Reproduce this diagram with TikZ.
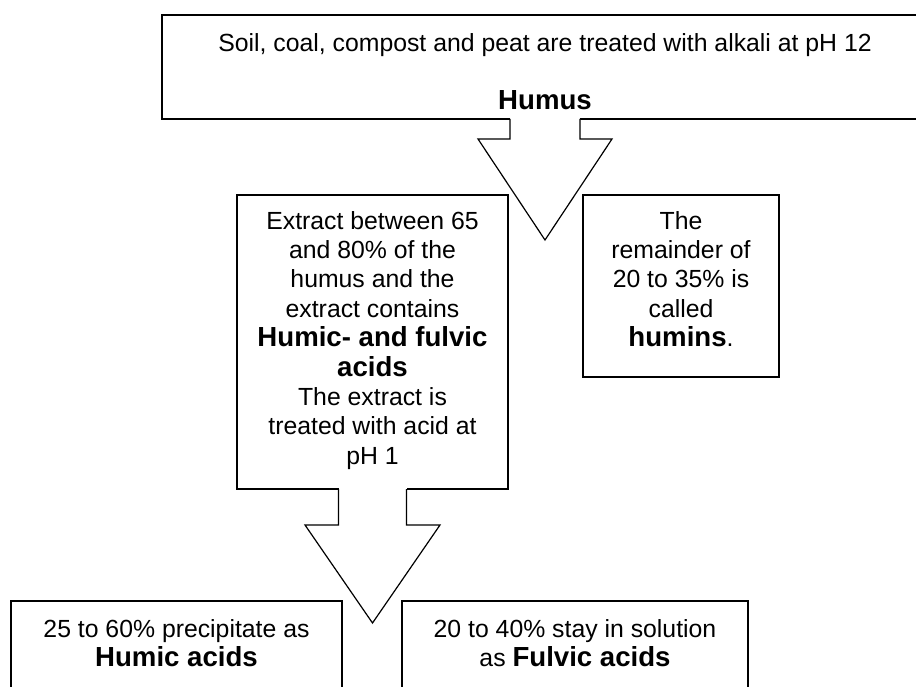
\documentclass[tikz,border=0pt]{standalone}
\usepackage{fontspec}
\setmainfont{Liberation Sans}
\usetikzlibrary{calc}
% emphasised terms are set bold and a little larger than the body text
\newcommand\term[1]{{\fontsize{27.6}{29.4}\selectfont\bfseries #1}}
\begin{document}
\begin{tikzpicture}[x=1pt,y=-1pt,
  box/.style={draw, line width=1.7pt, fill=white, rectangle, inner sep=0pt, outer sep=0pt},
  txt/.style={anchor=north, inner sep=0pt, align=center,
    font=\fontsize{24.8}{29.4}\selectfont},
  blockarrow/.style={draw, line width=1.2pt, fill=white, line join=miter},
  % hollow block arrow hanging from a box edge:
  % {shaft half width}{shaft length}{head half width}{tip depth}
  pics/downarrow/.style n args={4}{code={
    \fill[white] (-#1,-3) rectangle (#1,2);
    \draw[blockarrow] (-#1,0) -- (-#1,#2) -- (-#3,#2) -- (0,#4)
      -- (#3,#2) -- (#1,#2) -- (#1,0);
  }}]
\useasboundingbox (0,0) rectangle (916,687);
\clip (0,0) rectangle (916,687);

% boxes
\node[box, minimum width=766, minimum height=104] (src) at (545,67) {};
\node[box, minimum width=271, minimum height=294] (extract) at (372.5,342) {};
\node[box, minimum width=196, minimum height=182] (humins) at (681,286) {};
\node[box, minimum width=331, minimum height=120] (humic) at (176.5,661) {};
\node[box, minimum width=346, minimum height=120] (fulvic) at (575,661) {};

% arrows
\pic at (src.south) {downarrow={35}{20}{67}{121}};
\pic at (extract.south) {downarrow={34}{36}{67.5}{134}};

% texts
\node[txt] (srctxt) at ($(src.north)+(0,18)$)
  {Soil, coal, compost and peat are treated with alkali at pH 12\\[29.4pt]\term{Humus}};
\node[txt] (extracttxt) at ($(extract.north)+(0,16)$)
  {Extract between 65\\and 80\% of the\\humus and the\\extract contains\\
   \term{Humic- and fulvic}\\\term{acids}\\The extract is\\treated with acid at\\pH 1};
\node[txt] (huminstxt) at ($(humins.north)+(0,16)$)
  {The\\remainder of\\20 to 35\% is\\called\\\term{humins}.};
\node[txt] (humictxt) at ($(humic.north)+(0,18)$)
  {25 to 60\% precipitate as\\\term{Humic acids}};
\node[txt] (fulvictxt) at ($(fulvic.north)+(0,18)$)
  {20 to 40\% stay in solution\\as \term{Fulvic acids}};
\end{tikzpicture}
\end{document}
